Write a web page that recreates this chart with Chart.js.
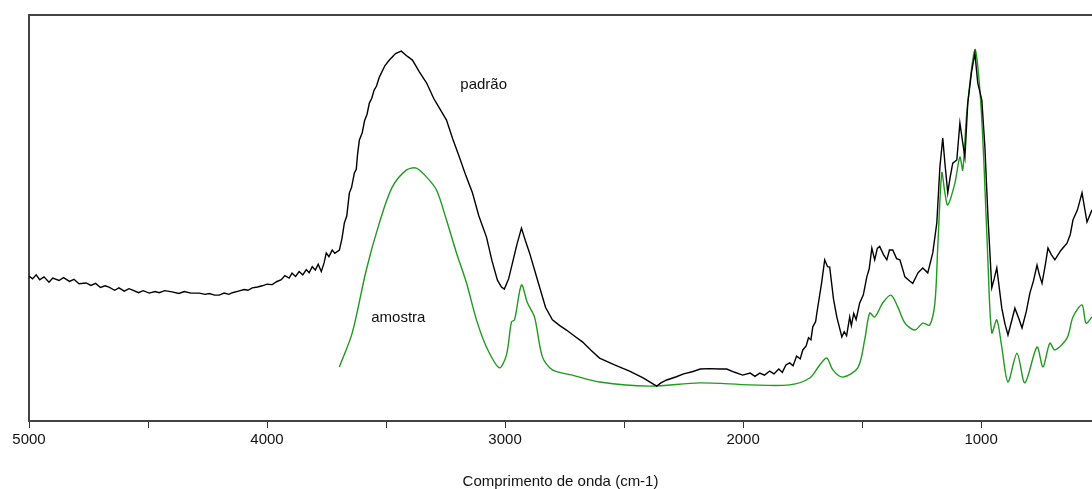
<!DOCTYPE html>
<html>
<head>
<meta charset="utf-8">
<script src="https://cdn.jsdelivr.net/npm/chart.js@4"></script>
<style>
  html, body { margin: 0; padding: 0; background: #fff; }
  #wrap { width: 1092px; height: 489px; position: relative; }
</style>
</head>
<body>
<div id="wrap"><canvas id="c" width="1092" height="489"></canvas></div>
<script>
// ---- data (wavenumber cm-1, relative intensity) ----
const padraoWavenumber = [5000,4985,4970,4955,4937,4916,4900,4874,4855,4830,4811,4790,4760,4740,4720,4700,4680,4664,4640,4622,4600,4580,4567,4540,4520,4495,4470,4453,4430,4399,4370,4348,4320,4285,4260,4243,4220,4201,4180,4160,4146,4120,4096,4080,4062,4040,4020,4000,3978,3960,3940,3925,3907,3895,3880,3865,3850,3835,3823,3810,3797,3785,3772,3760,3751,3740,3726,3715,3696,3685,3675,3665,3654,3645,3633,3625,3620,3612,3600,3590,3580,3570,3560,3550,3540,3528,3505,3486,3460,3436,3410,3389,3360,3330,3300,3288,3265,3246,3220,3192,3165,3137,3110,3078,3055,3032,3015,3003,2985,2969,2950,2931,2915,2897,2875,2855,2830,2801,2770,2742,2710,2675,2640,2603,2540,2477,2420,2363,2345,2321,2280,2250,2210,2180,2140,2100,2069,2035,2002,1970,1950,1930,1910,1888,1870,1850,1835,1820,1804,1790,1775,1760,1749,1735,1725,1715,1707,1695,1690,1670,1657,1645,1636,1620,1606,1585,1575,1565,1552,1545,1535,1525,1510,1495,1480,1470,1459,1447,1436,1426,1410,1396,1385,1371,1355,1341,1320,1300,1287,1265,1245,1224,1203,1186,1173,1161,1152,1140,1130,1119,1102,1089,1077,1068,1056,1040,1026,1014,997,984,971,955,945,934,913,900,887,870,858,840,828,810,795,780,765,755,744,730,719,705,690,665,639,625,614,595,576,555,534];
const padraoValues = [35.7,35.0,36.0,34.8,35.5,34.2,35.2,34.6,35.3,34.4,34.9,33.8,34.0,33.4,33.9,32.9,33.3,33.0,32.2,32.8,32.0,32.6,32.3,31.6,32.1,31.5,31.9,31.6,32.1,31.8,31.4,31.9,31.5,31.5,31.2,31.4,31.0,31.0,31.5,31.2,31.6,32.0,32.4,32.2,32.8,33.0,33.3,33.7,33.6,34.3,34.8,35.8,35.2,36.4,35.6,36.8,36.0,37.3,36.5,38.0,37.2,38.6,36.8,39.0,41.4,40.5,42.1,41.3,42.1,45.0,48.8,50.5,56.2,57.5,61.1,62.0,65.5,69.2,71.0,74.0,75.5,78.3,79.5,81.5,82.5,84.7,87.5,88.9,90.5,91.1,89.8,88.9,86.0,83.3,79.5,78.3,76.0,74.1,69.5,65.0,60.5,56.2,50.5,45.3,39.5,34.7,33.0,32.5,35.0,38.9,43.5,47.5,44.5,41.4,37.0,33.0,28.0,24.9,23.5,22.4,21.0,19.5,17.5,15.5,13.8,12.3,10.6,8.6,9.4,10.1,10.9,11.6,12.2,12.8,12.9,12.8,12.8,12.0,11.3,11.8,11.0,11.8,11.3,12.3,11.6,12.8,12.0,13.8,14.3,13.6,16.0,15.3,17.5,18.5,20.5,20.0,23.2,24.5,26.6,34.0,39.7,38.0,37.9,30.0,25.6,20.7,22.0,21.0,25.6,23.5,26.5,25.0,29.1,31.0,35.5,37.5,42.6,39.7,42.5,43.0,41.0,39.7,42.1,42.1,40.0,39.7,35.5,34.5,33.9,36.5,37.7,36.5,41.4,48.8,62.6,69.7,63.5,56.2,60.0,63.5,64.3,73.4,68.5,65.0,78.3,86.0,90.6,83.3,79.1,67.5,50.2,32.8,35.0,37.7,27.8,24.0,21.2,25.0,27.8,25.0,22.9,27.0,31.5,34.5,38.4,36.0,33.9,38.5,42.6,41.0,39.7,42.0,43.8,46.0,49.5,52.0,56.2,49.0,52.0];

const amostraWavenumber = [3696,3642,3583,3528,3474,3415,3373,3330,3288,3246,3204,3162,3120,3078,3024,2994,2973,2960,2931,2906,2876,2843,2801,2717,2603,2393,2183,1972,1804,1720,1678,1648,1623,1581,1518,1489,1468,1447,1413,1379,1350,1320,1278,1245,1216,1194,1182,1165,1152,1140,1110,1089,1077,1060,1026,1005,988,971,955,934,913,887,849,816,765,740,711,690,639,614,576,559,534];
const amostraValues = [13.3,21.7,37.2,48.8,57.6,61.8,62.3,60.1,56.9,49.5,41.4,34.0,24.9,18.2,13.1,16.3,24.4,24.9,33.5,29.1,25.6,15.8,12.6,11.3,9.6,8.6,9.4,8.9,8.9,10.6,13.8,15.5,12.6,10.8,13.1,20.0,26.6,25.6,29.1,31.0,28.1,24.1,22.4,24.1,23.6,29.1,42.9,61.1,56.2,53.2,58.6,65.0,61.8,75.9,91.4,81.5,63.5,38.9,21.7,24.9,18.2,9.6,16.7,9.4,18.2,13.3,19.2,17.5,20.4,25.6,28.6,24.1,25.6];

const majorTicks = [5000, 4000, 3000, 2000, 1000];
const seriesLabels = ['padrão', 'amostra'];
const axisTitle = 'Comprimento de onda (cm-1)';
const labelPositions = [[3188, 82.8], [3562, 25.4]];

const toPts = (xs, ys) => xs.map((x, i) => ({x: x, y: ys[i]}));

const FONT = 'Liberation Sans, Arial, sans-serif';

const seriesLabelPlugin = {
  id: 'seriesLabels',
  afterDatasetsDraw(chart) {
    const {ctx, scales: {x, y}} = chart;
    ctx.save();
    ctx.font = '15px ' + FONT;
    ctx.fillStyle = '#111';
    ctx.textAlign = 'left';
    ctx.textBaseline = 'middle';
    seriesLabels.forEach((t, i) => {
      ctx.fillText(t, x.getPixelForValue(labelPositions[i][0]), y.getPixelForValue(labelPositions[i][1]));
    });
    ctx.restore();
  }
};

new Chart(document.getElementById('c'), {
  type: 'scatter',
  data: {
    datasets: [
      {
        label: seriesLabels[0],
        data: toPts(padraoWavenumber, padraoValues),
        showLine: true, borderColor: '#000000', borderWidth: 1.4,
        pointRadius: 0, tension: 0, fill: false
      },
      {
        label: seriesLabels[1],
        data: toPts(amostraWavenumber, amostraValues),
        showLine: true, borderColor: '#1f9a1f', borderWidth: 1.4,
        pointRadius: 0, tension: 0.3, fill: false
      }
    ]
  },
  options: {
    responsive: false,
    animation: false,
    events: [],
    layout: { padding: { left: 29, right: 0, top: 15, bottom: 0 } },
    plugins: { legend: { display: false }, tooltip: { enabled: false } },
    scales: {
      x: {
        type: 'linear', position: 'bottom', reverse: true,
        min: 534, max: 5000,
        afterBuildTicks(s) {
          s.ticks = [];
          for (let v = 5000; v >= 1000; v -= 500) s.ticks.push({value: v});
        },
        afterFit(s) { s.height = 68; },
        ticks: {
          autoSkip: false, maxRotation: 0, padding: 3,
          color: '#111', font: { family: FONT, size: 15 },
          callback: (v) => majorTicks.includes(v) ? String(v) : ''
        },
        grid: { display: true, drawOnChartArea: false, drawTicks: true, tickLength: 7, color: '#333', lineWidth: 1 },
        border: { display: true, color: '#444', width: 2 },
        title: { display: true, text: axisTitle, color: '#111', font: { family: FONT, size: 15 }, padding: { top: 4, bottom: -2 } }
      },
      xTop: {
        type: 'linear', position: 'top', min: 0, max: 1,
        afterFit(s) { s.height = 0; },
        ticks: { display: false },
        grid: { display: false, drawTicks: false },
        border: { display: true, color: '#444', width: 2 }
      },
      y: {
        type: 'linear', min: 0, max: 100,
        afterFit(s) { s.width = 0; },
        ticks: { display: false },
        grid: { display: false, drawTicks: false },
        border: { display: true, color: '#444', width: 2 }
      }
    }
  },
  plugins: [seriesLabelPlugin]
});
</script>
</body>
</html>
